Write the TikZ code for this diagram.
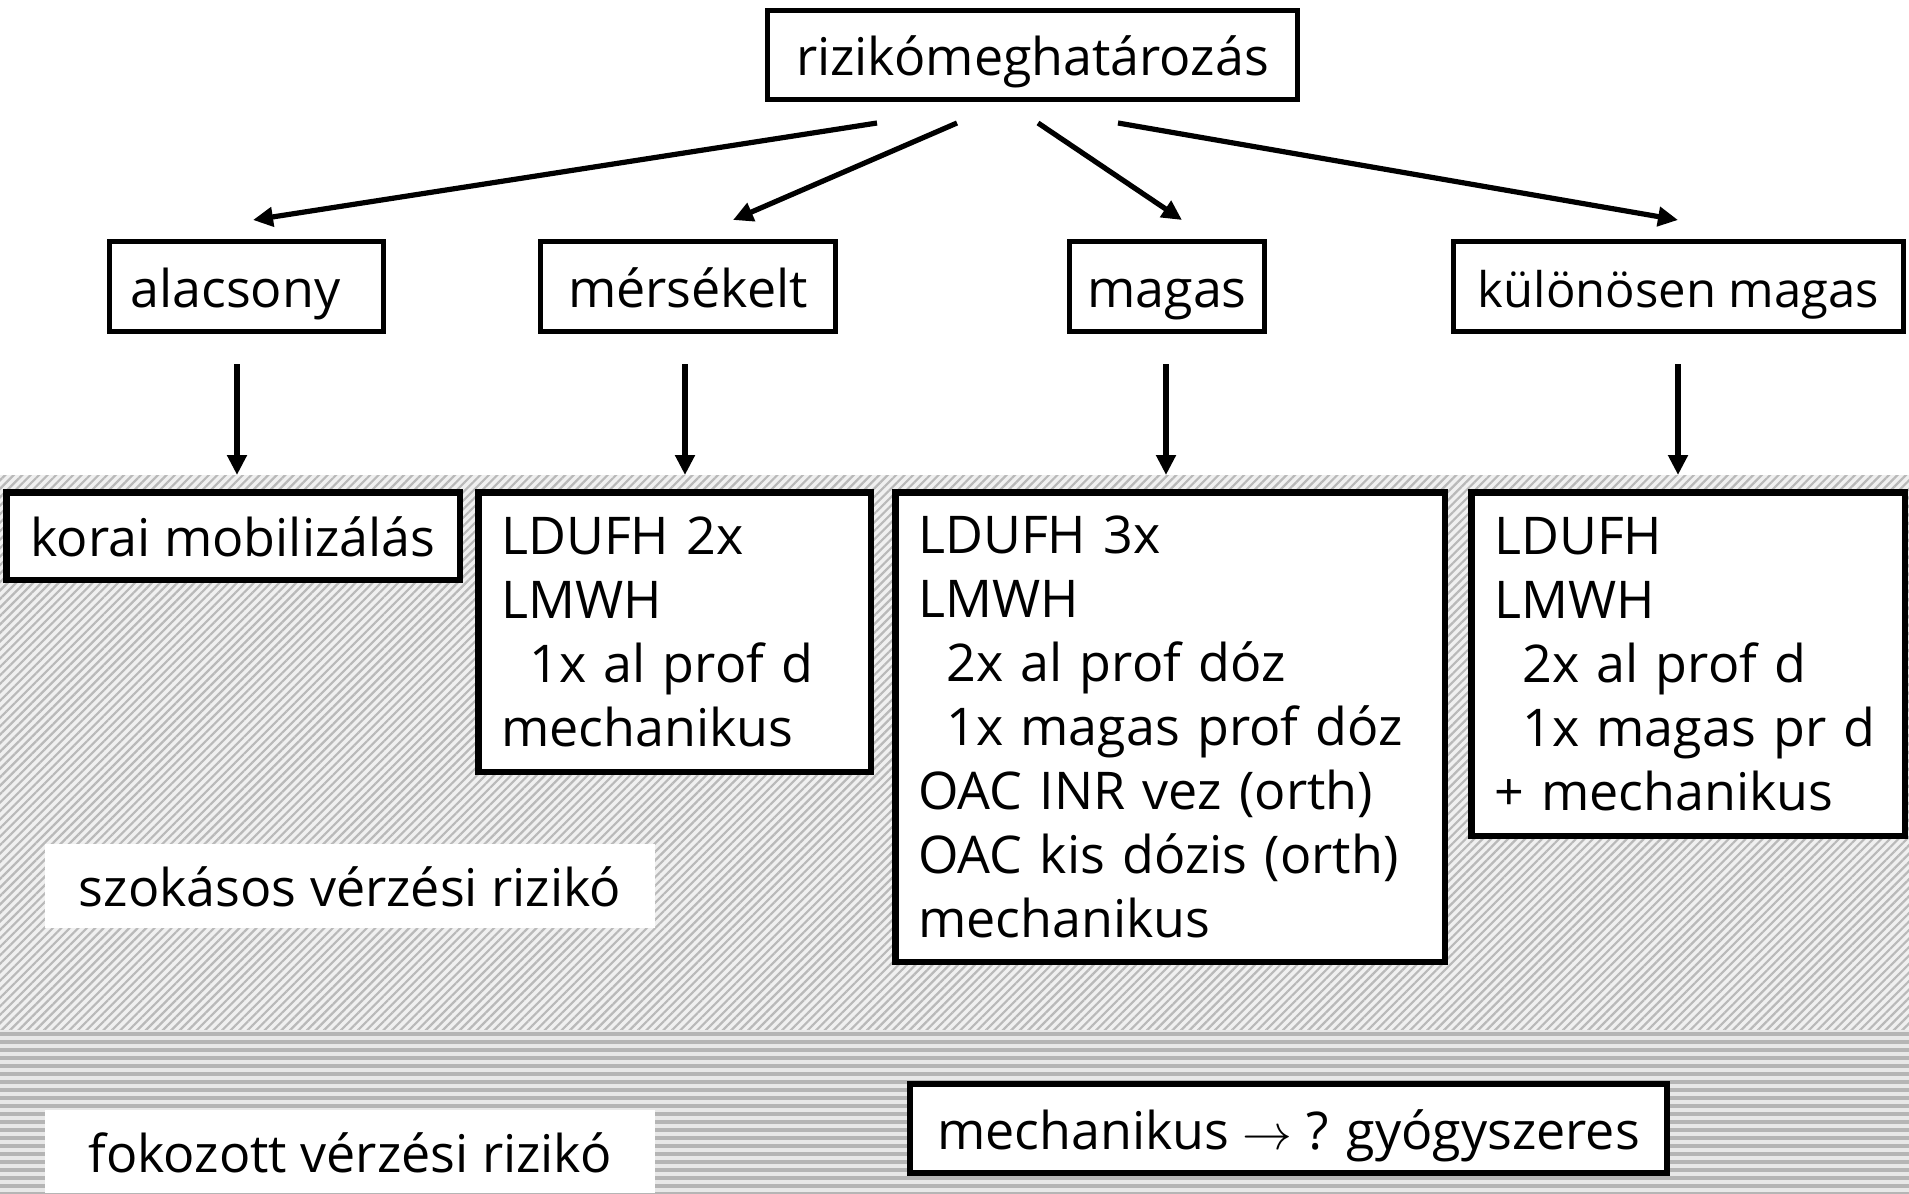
\documentclass[tikz,border=0pt]{standalone}
\usepackage{fontspec}
\setmainfont{Open Sans}
\usetikzlibrary{arrows.meta,patterns.meta,calc}
\begin{document}
\begin{tikzpicture}[x=0.5pt,y=-0.5pt,
  txt/.style={font=\fontsize{26pt}{32pt}\selectfont},
  one/.style={text height=24pt,text depth=3.5pt},
  box/.style={txt,one,draw=black,line width=2.5pt,fill=white,inner sep=0pt},
  bigbox/.style={txt,draw=black,line width=3.25pt,fill=white,inner sep=0pt},
  listbox/.style={bigbox,align=left,inner xsep=11.5pt,inner ysep=0pt},
  lab/.style={txt,one,fill=white,inner sep=0pt},
  arr/.style={line width=2.6pt,-{Triangle[length=10pt,width=9.5pt]}},
  stripe/.style={gray!58,line width=2pt}
]
\useasboundingbox (0,0) rectangle (1909,1193);
% background bands
\fill[gray!12] (0,475) rectangle (1909,1030);
\fill[pattern={Lines[angle=45,distance=3pt,line width=1.1pt]},pattern color=gray!55] (0,475) rectangle (1909,1030);
\fill[gray!18] (0,1030) rectangle (1909,1193);
\foreach \yy in {1034,1042,...,1194} \draw[stripe] (0,\yy) -- (1909,\yy);

% top
\node[box,minimum width=265pt,minimum height=44.5pt] (top) at (1032.5,55) {rizikómeghatározás};
% level 2
\node[box,minimum width=137pt,minimum height=45pt] (alac) at (246.5,286.5) {alacsony\hspace*{11pt}};
\node[box,minimum width=147.5pt,minimum height=45pt] (mers) at (688,286.5) {mérsékelt};
\node[box,minimum width=97.5pt,minimum height=45pt] (magas) at (1167,286.5) {magas};
\node[box,font=\fontsize{24.5pt}{32pt}\selectfont,minimum width=225pt,minimum height=45pt] (kul) at (1678.5,286.5) {különösen magas};

% level 3
\node[bigbox,one,minimum width=226.75pt,minimum height=43.75pt] (korai) at (233,536) {korai mobilizálás};
\node[listbox,text width=173.25pt,minimum height=139.75pt] (two) at (674.5,632)
  {\mbox{LDUFH 2x}\\\mbox{LMWH}\\\mbox{\hspace*{14pt}1x al prof d}\\\mbox{mechanikus}};
\node[listbox,text width=251.75pt,minimum height=234.75pt] (three) at (1170,727)
  {\mbox{LDUFH 3x}\\\mbox{LMWH}\\\mbox{\hspace*{14pt}2x al prof dóz}\\\mbox{\hspace*{14pt}1x magas prof dóz}\\\mbox{OAC INR vez (orth)}\\\mbox{OAC kis dózis (orth)}\\\mbox{mechanikus}};
\node[listbox,text width=193.75pt,minimum height=171.75pt] (four) at (1688,664)
  {\mbox{LDUFH}\\\mbox{LMWH}\\\mbox{\hspace*{14pt}2x al prof d}\\\mbox{\hspace*{14pt}1x magas pr d}\\\mbox{+ mechanikus}};

% labels on bands
\node[lab,minimum width=305pt,minimum height=42pt] (szok) at (350,886) {szokásos vérzési rizikó};
\node[lab,minimum width=305pt,minimum height=41.5pt] (fok) at (350,1151.5) {fokozott vérzési rizikó};
\node[bigbox,one,line width=3pt,minimum width=378.5pt,minimum height=44.5pt] (mech) at (1288.5,1128.5) {mechanikus $\rightarrow$ ? gyógyszeres};

% arrows from top
\draw[arr] ($(top.south)+(-155.5,21)$) -- ($(alac.north)+(6.5,-19)$);
\draw[arr] ($(top.south)+(-75.5,21)$) -- ($(mers.north)+(45,-19)$);
\draw[arr] ($(top.south)+(5.5,21)$) -- ($(magas.north)+(15,-19)$);
\draw[arr] ($(top.south)+(85.5,21)$) -- ($(kul.north)+(-0.5,-19)$);
% vertical arrows
\draw[arr] ($(alac.south)+(-9.5,30)$) -- ($(korai.north)+(4,-14)$);
\draw[arr] ($(mers.south)+(-3,30)$) -- ($(two.north)+(10.5,-14)$);
\draw[arr] ($(magas.south)+(-1,30)$) -- ($(three.north)+(-4,-14)$);
\draw[arr] ($(kul.south)+(-0.5,30)$) -- ($(four.north)+(-10,-14)$);
\end{tikzpicture}
\end{document}
